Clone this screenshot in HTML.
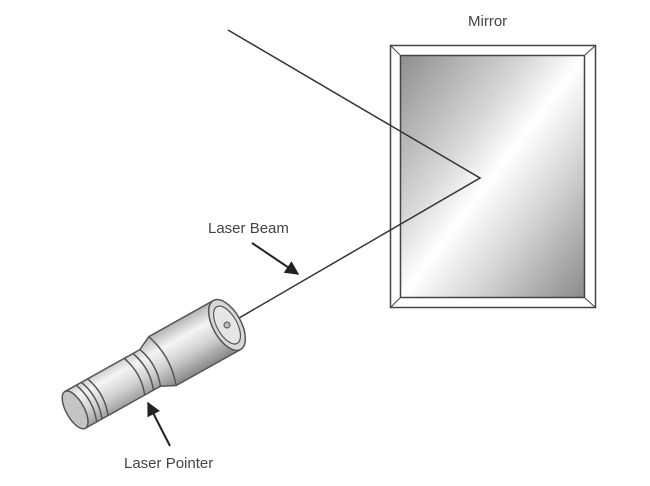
<!DOCTYPE html>
<html><head><style>
html,body{margin:0;padding:0;background:#fff;}
svg{display:block;}
text{font-family:"Liberation Sans",sans-serif;font-size:15px;fill:#444;}
</style></head><body>
<svg width="650" height="486" viewBox="0 0 650 486">
<defs>
<linearGradient id="mg" x1="0" y1="0" x2="1" y2="1">
<stop offset="0" stop-color="#8e8e8e"/>
<stop offset="0.35" stop-color="#d8d8d8"/>
<stop offset="0.5" stop-color="#ffffff"/>
<stop offset="0.7" stop-color="#d4d4d4"/>
<stop offset="1" stop-color="#8a8a8a"/>
</linearGradient>
<linearGradient id="cg" x1="0" y1="0" x2="0" y2="1">
<stop offset="0" stop-color="#b5b5b5"/>
<stop offset="0.3" stop-color="#f4f4f4"/>
<stop offset="0.6" stop-color="#d2d2d2"/>
<stop offset="1" stop-color="#888"/>
</linearGradient>
<marker id="ah" viewBox="0 0 10 10" refX="9" refY="5" markerWidth="7" markerHeight="7" orient="auto">
<path d="M0,0 L10,5 L0,10 z" fill="#222"/>
</marker>
</defs>
<rect x="390.5" y="45.5" width="205" height="262" fill="#fff" stroke="#444" stroke-width="1.5"/>
<rect x="400.5" y="55.5" width="184" height="242" fill="url(#mg)" stroke="#444" stroke-width="1.5"/>
<g stroke="#444" stroke-width="1">
<line x1="390" y1="45" x2="400" y2="55"/><line x1="596" y1="45" x2="585" y2="55"/>
<line x1="390" y1="308" x2="400" y2="298"/><line x1="596" y1="308" x2="585" y2="298"/>
</g>
<text x="468" y="26">Mirror</text>
<polyline points="228,30 480,178 227,325" fill="none" stroke="#333" stroke-width="1.5"/>
<g transform="translate(227,325) rotate(-29.2)" stroke="#555" stroke-width="1.5">
<path d="M-174,-21 L-88,-21 L-74,-28 L0,-28 L0,28 L-74,28 L-88,21 L-174,21 Z" fill="url(#cg)"/>
<ellipse cx="-174" cy="0" rx="9" ry="21" fill="#c4c4c4"/>
<ellipse cx="0" cy="0" rx="14" ry="28" fill="#d8d8d8"/>
<ellipse cx="0" cy="0" rx="10" ry="21" fill="#e6e6e6" stroke-width="1.2"/>
<circle cx="0" cy="0" r="3" fill="#bbb" stroke-width="1"/>
<path d="M-74,-28 Q-64,0 -74,28" fill="none"/>
<path d="M-88,-21 Q-80,0 -88,21" fill="none"/>
<path d="M-96,-21 Q-88,0 -96,21" fill="none"/>
<path d="M-106,-21 Q-98,0 -106,21" fill="none"/>
<path d="M-148,-21 Q-140,0 -148,21" fill="none"/>
<path d="M-155,-21 Q-147,0 -155,21" fill="none"/>
<path d="M-161,-21 Q-153,0 -161,21" fill="none"/>
</g>
<text x="208" y="233">Laser Beam</text>
<line x1="252" y1="243" x2="298" y2="274" stroke="#222" stroke-width="2" marker-end="url(#ah)"/>
<text x="124" y="468">Laser Pointer</text>
<line x1="170" y1="446" x2="148" y2="403" stroke="#222" stroke-width="2" marker-end="url(#ah)"/>
</svg>
</body></html>
